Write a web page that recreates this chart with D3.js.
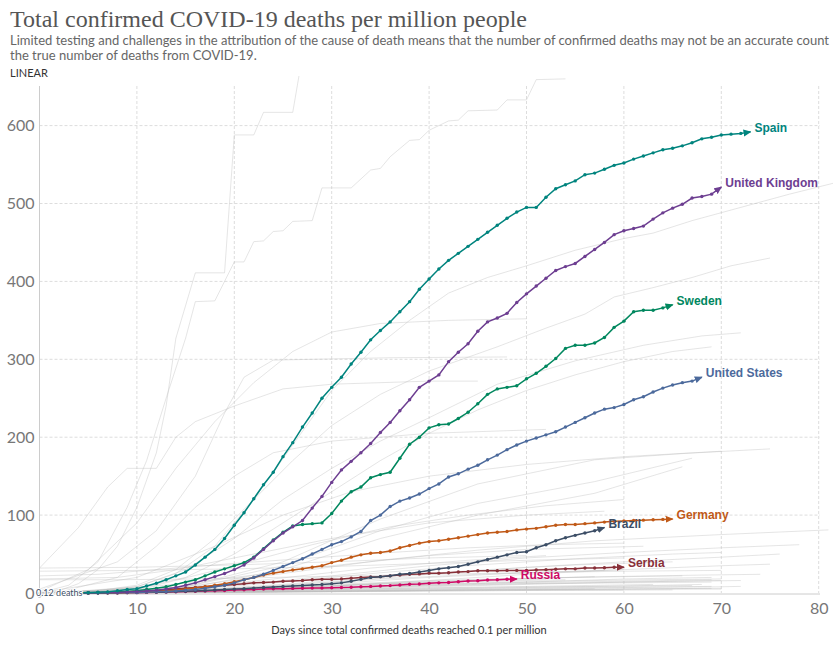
<!DOCTYPE html>
<html><head><meta charset="utf-8">
<script src="https://cdn.jsdelivr.net/npm/d3@7/dist/d3.min.js"></script>
<style>
body{margin:0;background:#fff;overflow:hidden}
svg{display:block}
</style></head>
<body>
<svg id="chart" width="833" height="646"></svg>
<script>
// ---------- DATA ----------
const title = "Total confirmed COVID-19 deaths per million people";
const subtitle1 = "Limited testing and challenges in the attribution of the cause of death means that the number of confirmed deaths may not be an accurate count";
const subtitle2 = "the true number of deaths from COVID-19.";
const xAxisTitle = "Days since total confirmed deaths reached 0.1 per million";
const xTicks = [0,10,20,30,40,50,60,70,80];
const yTicks = [0,100,200,300,400,500,600];

const countries = ["Spain","United Kingdom","Sweden","United States","Germany","Brazil","Serbia","Russia"];
const colors = ["#00847E","#6D3E91","#00875E","#4C6A9C","#C05917","#3C4E66","#883039","#CF0A66"];
const startDay = 4;

const spain = [0.2,0.5,0.9,1.5,2.8,4.5,5.5,9,12.5,17,22,27,36,46,56,70,87,103,121,139,155,175,193,213,231,250,264,277,294,309,325,337,348,361,374,390,403,416,427,436,445,454,463,472,481,489,495,495,508,519,524,529,537,539,544,549,552,557,561,565,569,571,574,578,583,585,588,589,590,592];
const uk = [0.1,0.2,0.3,0.5,0.8,1.2,1.8,2.5,3.5,5,7,10,13,17,21,25,30,36,45,56,67,77,85,93,109,124,142,158,169,180,192,206,219,234,248,264,272,280,297,309,320,336,348,353,359,373,384,394,404,414,419,423,432,441,450,460,465,468,471,480,488,494,499,507,509,512,521];
const sweden = [0.1,0.2,0.4,0.7,1.2,2,3,4.5,6,8,11,14,17,22,27,31,35,39,46,57,68,78,86,88,89,90,102,118,130,136,148,152,155,173,191,200,212,216,217,224,232,243,255,262,264,266,275,282,291,301,314,318,318,321,328,341,349,361,363,363,366,370];
const us = [0.1,0.15,0.2,0.3,0.4,0.6,0.8,1.1,1.5,2,2.7,3.5,4.5,6,8,10,13,17,20,24,29,34,39,44,50,56,62,66,72,79,93,100,111,118,122,127,134,140,149,153,159,164,171,177,184,190,195,199,203,207,213,219,225,231,236,238,242,248,252,258,263,267,270,272,277];
const germany = [0.1,0.1,0.2,0.3,0.4,0.6,0.9,1.3,2,2.8,3.8,5,6.5,8,10,12,14.5,17,20,23,25.5,27.5,29.5,31,33,35,39,42,46,49,51,52,54,58,61,64,66,67,69,71,73,75,77,78,79,81,82,83,85,87,88,88,89,90,91,92,92.5,93,93.5,94,94.5,95];
const brazil = [0.1,0.1,0.2,0.3,0.4,0.5,0.7,0.9,1.1,1.4,1.8,2.2,2.7,3.2,3.8,4.4,5,5.6,6.3,7,7.6,8.3,9,9.7,10.3,11,12,13,15,17.5,20,21,22,24,25,27,29,31,32.5,34,37,40,43,46,49,52,53,58,62,67,71,74,77,80,84];
const serbia = [0.1,0.3,0.5,0.8,1.1,1.5,2,2.6,3.3,4,5,6,7,8,9,10,11,12,13,13.5,14,15,15.5,16,17,17.5,17.5,18,19,20,20.5,21,22,23,24,24.5,25.5,25.5,26,27,27.5,28.5,28.5,28.5,29,29,29,29.5,30,30.5,31,31,32,32,32.5,33,33];
const russia = [0.1,0.1,0.2,0.3,0.4,0.5,0.6,0.8,1,1.2,1.5,1.8,2.1,2.5,2.9,3.3,3.7,4.1,4.5,5,5.3,5.6,5.9,6.1,6.3,6.5,6.8,7,7.3,8,8.5,9,9.5,10.3,11.2,11.6,12.4,13,13.5,14.5,15.4,15.8,16.7,17,17.6,18];
const seriesValues = [spain, uk, sweden, us, germany, brazil, serbia, russia];

// other countries (grey), [day, value] pairs
const greyLines = [
  [[0,0.1],[2,3],[4,12],[6,30],[8,60],[10,110],[12,180],[13,240],[14,327],[16,411],[19,411],[20,588],[22,588],[23,617],[26,617],[27,690]],
  [[0,0.1],[3,10],[6,40],[9,110],[11,170],[13,250],[15,327],[16,374],[18,375],[20,425],[21,425],[22,451],[23,452],[24,464],[25,465],[26,477],[28,478],[29,520],[32,520],[34,543],[35,545],[36,560],[38,581],[39,582],[40,594],[42,606],[43,607],[44,619],[47,620],[48,633],[50,633],[51,659],[54,660]],
  [[0,0.1],[6,2],[10,8],[14,25],[18,60],[22,120],[26,190],[30,260],[34,310],[38,350],[42,385],[46,405],[50,420],[55,440],[60,455],[63,462],[67,478],[72,495],[77,512],[81.5,526]],
  [[0,0.1],[6,3],[10,10],[14,30],[18,70],[22,120],[26,170],[30,215],[35,255],[40,285],[47,316],[52,340],[56,358],[59,380],[63,392],[67,405],[71,420],[75,430]],
  [[2,0.5],[10,8],[15,30],[20,70],[25,120],[30,160],[35,195],[40,225],[47,268],[55,298],[62,318],[68,330],[72,334]],
  [[3,0.5],[10,6],[15,20],[20,50],[25,90],[30,130],[35,170],[40,205],[45,235],[50,260],[55,280],[60,297],[65,310],[69,316]],
  [[4,0.3],[15,8],[25,40],[35,95],[45,140],[57,171],[66,179],[75,185]],
  [[5,0.3],[15,8],[25,35],[35,80],[45,115],[57,143],[62,158],[67,173]],
  [[6,0.2],[15,6],[25,30],[35,70],[45,100],[57,128],[66,162]],
  [[0,0.1],[15,8],[25,25],[35,42],[45,55],[57,67],[70,75],[81,81]],
  [[0,2],[5,30],[10,90],[14,160],[18,220],[22,270],[26,310],[30,335],[35,346],[42,350],[50,352]],
  [[0,32],[4,84],[7,136],[9,160],[12,160],[14,200],[16,220],[20,240],[25,262],[30,268],[40,272],[45,272]],
  [[0,5],[8,40],[12,80],[16,150],[19,231],[21,277],[24,299],[28,300],[36,302],[48,303]],
  [[2,1],[8,20],[12,60],[16,110],[20,150],[24,180],[30,195],[40,205],[52,210]],
  [[0,0.5],[10,20],[18,60],[25,100],[32,130],[40,150],[50,165],[60,175],[70,182]],
  [[3,0.4],[12,10],[20,35],[28,62],[36,85],[44,100],[52,112],[60,120]],
  [[0,18],[8,20],[14,30],[20,45],[26,60],[30,70],[40,90],[50,100],[58,105]],
  [[0,22],[6,24],[12,30],[20,38],[28,45],[36,52],[44,58],[52,62],[60,64]],
  [[0,28],[10,29],[20,31],[30,34],[40,38],[50,42],[60,45]],
  [[0,32],[10,33],[20,36],[30,40],[40,45],[50,48]],
  [[0,17],[8,17],[16,18],[24,20],[32,22],[40,24],[50,26],[60,28],[70,29]],
  [[5,0.2],[20,10],[30,22],[40,35],[50,45],[60,52],[70,58],[78,62]],
  [[4,0.1],[20,6],[30,14],[40,24],[50,33],[60,40],[70,46],[76,50]],
  [[3,0.1],[20,4],[30,9],[40,16],[50,24],[60,30],[70,35],[75,37]],
  [[6,0.2],[20,3],[30,6],[40,10],[50,14],[60,18],[69,20]],
  [[5,0.1],[20,2],[30,5],[40,8],[50,11],[60,14],[70,16]],
  [[8,0.1],[20,1.5],[30,3],[40,5],[50,7],[60,9],[68,11]],
  [[4,0.2],[15,2],[25,5],[35,8],[45,11],[55,13],[65,15],[72,16]],
  [[6,0.1],[18,1],[28,2],[38,3],[48,4],[58,5],[69,6]],
  [[3,0.1],[15,0.8],[25,1.5],[35,2.2],[45,3],[55,3.5],[65,4]],
  [[2,0.1],[12,1],[22,4],[32,8],[42,12],[52,15],[62,17],[70,18]],
  [[5,0.1],[15,3],[25,10],[35,18],[45,24],[55,28],[60,30]],
  [[7,0.1],[20,5],[30,12],[40,20],[50,26],[58,29]],
  [[4,0.1],[14,2],[24,6],[34,11],[44,15],[52,18]],
  [[6,0.1],[18,3],[28,8],[38,13],[48,18],[57,21]],
  [[3,0.1],[16,4],[26,12],[36,22],[46,30],[55,36],[65,40]],
  [[0,0.1],[10,6],[20,20],[30,35],[40,48],[50,56],[62,60]],
  [[5,0.2],[15,4],[25,14],[35,26],[45,36],[55,44],[65,50],[70,52]],
  [[4,0.1],[12,1],[22,3],[32,5],[42,7],[52,8],[62,9],[67,9.5]],
  [[9,0.1],[20,0.8],[30,1.5],[40,2.5],[50,3.2],[60,3.8]],
  [[2,0.1],[14,5],[24,18],[34,32],[44,42],[52,48]],
  [[6,0.1],[16,2],[26,7],[36,12],[46,15],[54,17]],
  [[5,0.1],[20,1],[30,2.5],[40,4],[50,5.5],[60,7],[70,8],[72,8.5]],
  [[7,0.1],[20,2.5],[30,6],[40,9],[50,12],[60,13],[69,14]],
  [[4,0.1],[18,4],[28,9],[38,14],[48,18],[58,21],[68,23],[74,24]],
  [[8,0.1],[22,1],[32,2],[42,3.5],[52,4.5],[62,5.5],[70,6]],
  [[3,0.1],[15,1.5],[25,3],[35,4.5],[45,6],[55,7],[65,8],[69,8.5]],
  [[6,0.1],[20,5],[30,11],[40,16],[50,19],[60,21],[66,22]],
  [[5,0.1],[18,2],[28,4],[38,6],[48,8],[58,10],[63,11]],
  [[10,0.1],[22,1.5],[32,3],[42,4],[52,5],[57,5.5]],
  [[4,0.1],[16,1],[26,2],[36,3],[46,4],[56,4.5],[70,5]],
  [[2,0.1],[14,2],[24,5],[34,9],[44,12],[54,14],[64,16],[69,17]]
];

// ---------- CHART ----------
const svg = d3.select("#chart");
const x = d3.scaleLinear().domain([0,80]).range([39.5,818.7]);
const y = d3.scaleLinear().domain([0,600]).range([593,125.6]);
const plotTop = 86, plotRight = 820;

// headings
svg.append("text").attr("x",10).attr("y",27)
  .attr("font-family","'Liberation Serif', 'DejaVu Serif', serif").attr("font-size",24)
  .attr("fill","#555").attr("textLength",517).attr("lengthAdjust","spacingAndGlyphs").text(title);
svg.append("text").attr("x",10).attr("y",44.5)
  .attr("font-family","Lato, sans-serif").attr("font-size",13).attr("fill","#666").text(subtitle1);
svg.append("text").attr("x",10).attr("y",59.5)
  .attr("font-family","Lato, sans-serif").attr("font-size",13).attr("fill","#666").text(subtitle2);
svg.append("text").attr("x",10).attr("y",77)
  .attr("font-family","Lato, sans-serif").attr("font-size",11).attr("fill","#333").text("LINEAR");

// grid
const grid = svg.append("g");
grid.selectAll("line.h").data(yTicks.filter(d=>d>0)).join("line")
  .attr("x1",x(0)).attr("x2",plotRight).attr("y1",d=>y(d)).attr("y2",d=>y(d))
  .attr("stroke","#ddd").attr("stroke-dasharray","3,2");
grid.selectAll("line.v").data(xTicks.filter(d=>d>0)).join("line")
  .attr("y1",plotTop).attr("y2",y(0)).attr("x1",d=>x(d)).attr("x2",d=>x(d))
  .attr("stroke","#ddd").attr("stroke-dasharray","3,2");

// axes
const xAxis = d3.axisBottom(x).tickValues(xTicks).tickSize(0).tickPadding(9);
const gx = svg.append("g").attr("transform",`translate(0,${y(0)+1})`).call(xAxis);
gx.select(".domain").attr("stroke","#ccc").attr("d",`M${x(0)},0H${plotRight}`);
gx.selectAll("text").attr("font-family","Lato, sans-serif").attr("font-size",16).attr("fill","#777");

const yAxis = d3.axisLeft(y).tickValues(yTicks).tickSize(0).tickPadding(5);
const gy = svg.append("g").attr("transform",`translate(${x(0)},0)`).call(yAxis);
gy.select(".domain").attr("stroke","#ccc").attr("d",`M0,${plotTop}V${y(0)+1}`);
gy.selectAll("text").attr("font-family","Lato, sans-serif").attr("font-size",16).attr("fill","#777");

svg.append("text").attr("x",409).attr("y",634).attr("text-anchor","middle")
  .attr("font-family","Lato, sans-serif").attr("font-size",11).attr("fill","#333").text(xAxisTitle);

// clip
svg.append("clipPath").attr("id","clip").append("rect")
  .attr("x",x(0)).attr("y",76).attr("width",833-x(0)).attr("height",y(0)-76+1);

const line = d3.line().x(d=>x(d[0])).y(d=>y(d[1]));

// grey lines
svg.append("g").attr("clip-path","url(#clip)")
  .selectAll("path").data(greyLines).join("path")
  .attr("d",line).attr("fill","none").attr("stroke","#bbb").attr("stroke-width",1).attr("opacity",0.38);

// markers
const defs = svg.append("defs");
colors.forEach((c,i)=>{
  defs.append("marker").attr("id","arr"+i).attr("viewBox","0 -4 8 8")
    .attr("refX",7).attr("refY",0).attr("markerWidth",8).attr("markerHeight",8)
    .attr("markerUnits","userSpaceOnUse").attr("orient","auto")
    .append("path").attr("d","M0,-3.5L8,0L0,3.5Z").attr("fill",c);
});

// colored series (drawn from back to front)
const order = [7,6,5,4,3,2,1,0];
const gs = svg.append("g");
order.forEach(i=>{
  const pts = seriesValues[i].map((v,k)=>[startDay+k, v]);
  const g = gs.append("g");
  g.append("path").datum(pts).attr("d",line).attr("fill","none")
    .attr("stroke",colors[i]).attr("stroke-width",1.5).attr("marker-end",`url(#arr${i})`);
  g.selectAll("circle").data(pts.slice(0,-1)).join("circle")
    .attr("cx",d=>x(d[0])).attr("cy",d=>y(d[1])).attr("r",1.7).attr("fill",colors[i]);
});
// labels
order.forEach(i=>{
  const vals = seriesValues[i];
  const last = [startDay+vals.length-1, vals[vals.length-1]];
  svg.append("text").attr("x",x(last[0])+4).attr("y",y(last[1])-4)
    .attr("dominant-baseline","central")
    .attr("font-family","'Liberation Sans', Arial, sans-serif").attr("font-weight","bold").attr("font-size",12)
    .attr("fill",colors[i]).text(countries[i]);
});

// annotation at origin (on top)
svg.append("circle").attr("cx",x(0)).attr("cy",y(0)+2).attr("r",2.2).attr("fill","none").attr("stroke","#aaa");
svg.append("text").attr("x",36).attr("y",596).attr("font-family","Lato, sans-serif").attr("font-size",9)
  .attr("fill","#3C4E66").attr("stroke","#fff").attr("stroke-width",2).attr("paint-order","stroke").text("0.12 deaths");
</script>
</body></html>
